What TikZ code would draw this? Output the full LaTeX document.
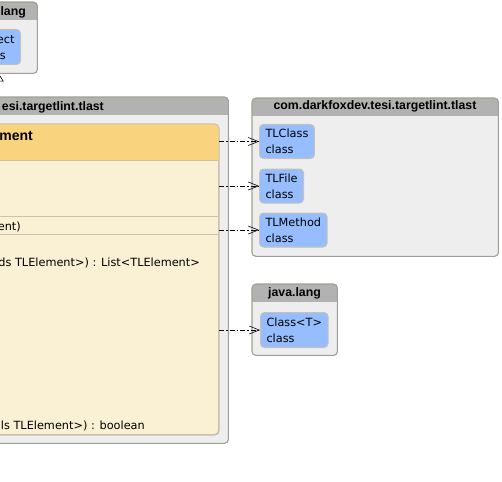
\documentclass[tikz,border=0pt]{standalone}
\usepackage{fontspec}
\setmainfont{DejaVu Sans}
\newfontfamily\headfont{Liberation Sans}
\usepackage{xcolor}
\usepackage{tikz}
\usetikzlibrary{arrows.meta}

\definecolor{pkgback}{HTML}{EEEEEE}
\definecolor{pkghead}{HTML}{B2B2B2}
\definecolor{pkgline}{HTML}{A39E95}
\definecolor{typeblue}{HTML}{96BDFF}
\definecolor{typeline}{HTML}{C8C1B4}
\definecolor{classhead}{HTML}{FAD37E}
\definecolor{classbody}{HTML}{FAF0D4}
\definecolor{classline}{HTML}{C9C1B1}

\tikzset{
  pkg/.style={fill=pkgback, rounded corners=4pt, inner sep=0pt, anchor=north west},
  pkgborder/.style={draw=pkgline, line width=1.1pt, rounded corners=4pt},
  pkgtitle/.style={font=\headfont\bfseries\fontsize{12.3}{15}\selectfont, inner sep=0pt},
  classbox/.style={fill=classbody, draw=classline, line width=1pt, rounded corners=4pt, inner sep=0pt},
  membertext/.style={font=\fontsize{11.3}{16}\selectfont, inner sep=0pt, anchor=base east},
  typebox/.style={fill=typeblue, draw=typeline, line width=1pt, rounded corners=4pt,
    font=\fontsize{11.3}{16}\selectfont, align=left, inner xsep=6pt, minimum height=34pt},
  dep/.style={draw=black, line width=0.6pt, dash pattern=on 5pt off 2pt on 1.5pt off 2pt,
    -{Straight Barb[length=10pt,width=8pt]}},
  inherit/.style={draw=black, line width=0.6pt, -{Triangle[open, fill=white, length=8pt, width=10pt]}}
}

\begin{document}
\begin{tikzpicture}[x=1pt, y=-1pt]
  \useasboundingbox (0,0) rectangle (502,481);
  \clip (0,0) rectangle (502,481);

  % packages
  \node[pkg, minimum width=77, minimum height=71] (langtop) at (-40,2) {};
  \node[pkg, minimum width=464, minimum height=346] (tlastleft) at (-236,97) {};
  \node[pkg, minimum width=246, minimum height=158] (tlastright) at (252,98) {};
  \node[pkg, minimum width=85, minimum height=71] (langbot) at (252,284) {};
  \foreach \p in {langtop, tlastleft, tlastright, langbot} {
    \begin{scope}
      \clip[rounded corners=4pt] (\p.north west) rectangle (\p.south east);
      \fill[pkghead] (\p.north west) rectangle ([yshift=-18pt]\p.north east);
    \end{scope}
    \draw[pkgborder] (\p.north west) rectangle (\p.south east);
  }
  \node[pkgtitle, anchor=base east] (langtoptitle) at (26,16) {lang};
  \node[pkgtitle, anchor=base east] (tlastlefttitle) at (104,111) {esi.targetlint.tlast};
  \node[pkgtitle] (tlastrighttitle) at (375,106.5) {com.darkfoxdev.tesi.targetlint.tlast};
  \node[pkgtitle] (langbottitle) at (294.5,293) {java.lang};

  % the class
  \node[classbox, minimum width=446, minimum height=310, anchor=north east] (elem) at (219,124) {};
  \begin{scope}
    \clip[rounded corners=4pt] (elem.north west) rectangle (elem.south east);
    \fill[classhead] (elem.north west) rectangle (elem.east |- 0,160);
  \end{scope}
  \draw[classline, line width=1pt, rounded corners=4pt] (elem.north west) rectangle (elem.south east);
  \draw[classline, line width=1pt] (elem.west |- 0,160) -- (elem.east |- 0,160);
  \draw[classline, line width=1pt] (elem.west |- 0,216) -- (elem.east |- 0,216);
  \draw[classline, line width=1pt] (elem.west |- 0,234) -- (elem.east |- 0,234);
  \node[membertext, font=\headfont\bfseries\fontsize{14}{16}\selectfont] (elemname) at (33,140) {ment};
  \node[membertext] (ctor) at (21,230) {ent)};
  \node[membertext] (listop) at (200,266) {ds TLElement>) : List<TLElement>};
  \node[membertext] (boolop) at (145,429) {ls TLElement>) : boolean};

  % types
  \node[typebox, anchor=north east, minimum height=35pt] (object) at (21,29) {Object\\class};
  \node[typebox, anchor=north west] (tlclass) at (259,124) {TLClass\\class};
  \node[typebox, anchor=north west] (tlfile) at (259,168.5) {TLFile\\class};
  \node[typebox, anchor=north west] (tlmethod) at (259,212.5) {TLMethod\\class};
  \node[typebox, anchor=north west, minimum height=35pt] (classt) at (260,312) {Class<T>\\class};

  % links
  \draw[inherit] (langtop.south |- elem.north) -- (langtop.south);
  \draw[dep] (elem.east |- tlclass.west) -- (tlclass.west);
  \draw[dep] (elem.east |- tlfile.west) -- (tlfile.west);
  \draw[dep] (elem.east |- tlmethod.west) -- (tlmethod.west);
  \draw[dep] (elem.east |- classt.west) -- (classt.west);
\end{tikzpicture}
\end{document}
